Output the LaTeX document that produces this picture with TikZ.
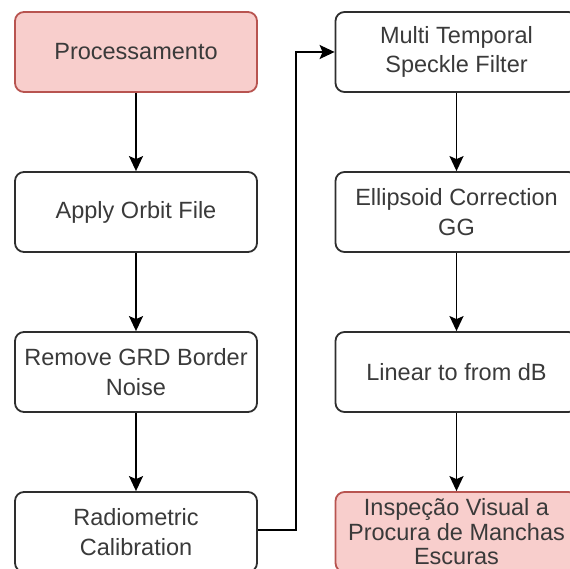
\documentclass[tikz,border=0pt]{standalone}
\usepackage{fontspec}
\setmainfont{Liberation Sans}
\usetikzlibrary{arrows.meta}
\definecolor{boxline}{HTML}{2E2E2E}
\definecolor{txt}{HTML}{3A3A3A}
\definecolor{pinkfill}{HTML}{F8CECC}
\definecolor{pinkline}{HTML}{B85450}
\tikzset{
  stepbox/.style={draw=boxline, line width=1.8pt, rounded corners=9pt, fill=white,
    minimum width=242pt, minimum height=80pt, align=center, text=txt,
    font=\fontsize{23.5}{29.5}\selectfont, inner sep=0pt},
  pinkbox/.style={stepbox, draw=pinkline, fill=pinkfill},
  flow/.style={draw=black, line width=1.8pt, -{Stealth[length=15pt,width=14pt,inset=3pt]}}
}
\begin{document}
\begin{tikzpicture}[x=1pt,y=-1pt]
\useasboundingbox (0,0) rectangle (570,569);
\node[pinkbox] (p) at (136,52) {Processamento};
\node[stepbox] (a) at (136,212) {Apply Orbit File};
\node[stepbox] (r) at (136,372) {Remove GRD Border\\Noise};
\node[stepbox] (c) at (136,532) {Radiometric\\Calibration};
\node[stepbox] (m) at (456.5,52) {Multi Temporal\\Speckle Filter};
\node[stepbox] (e) at (456.5,212) {Ellipsoid Correction\\GG};
\node[stepbox] (l) at (456.5,372) {Linear to from dB};
\node[pinkbox, font=\fontsize{23.5}{24.5}\selectfont] (i) at (456.5,532) {Inspeção Visual a\\Procura de Manchas\\Escuras};
\coordinate (t1) at (296,530);
\coordinate (t2) at (296,52);
\draw[flow] (p) -- (a);
\draw[flow] (a) -- (r);
\draw[flow] (r) -- (c);
\draw[flow] (c.east |- t1) -- (t1) -- (t2) -- (m.west);
\draw[flow] (m) -- (e);
\draw[flow] (e) -- (l);
\draw[flow] (l) -- (i);
\end{tikzpicture}
\end{document}
